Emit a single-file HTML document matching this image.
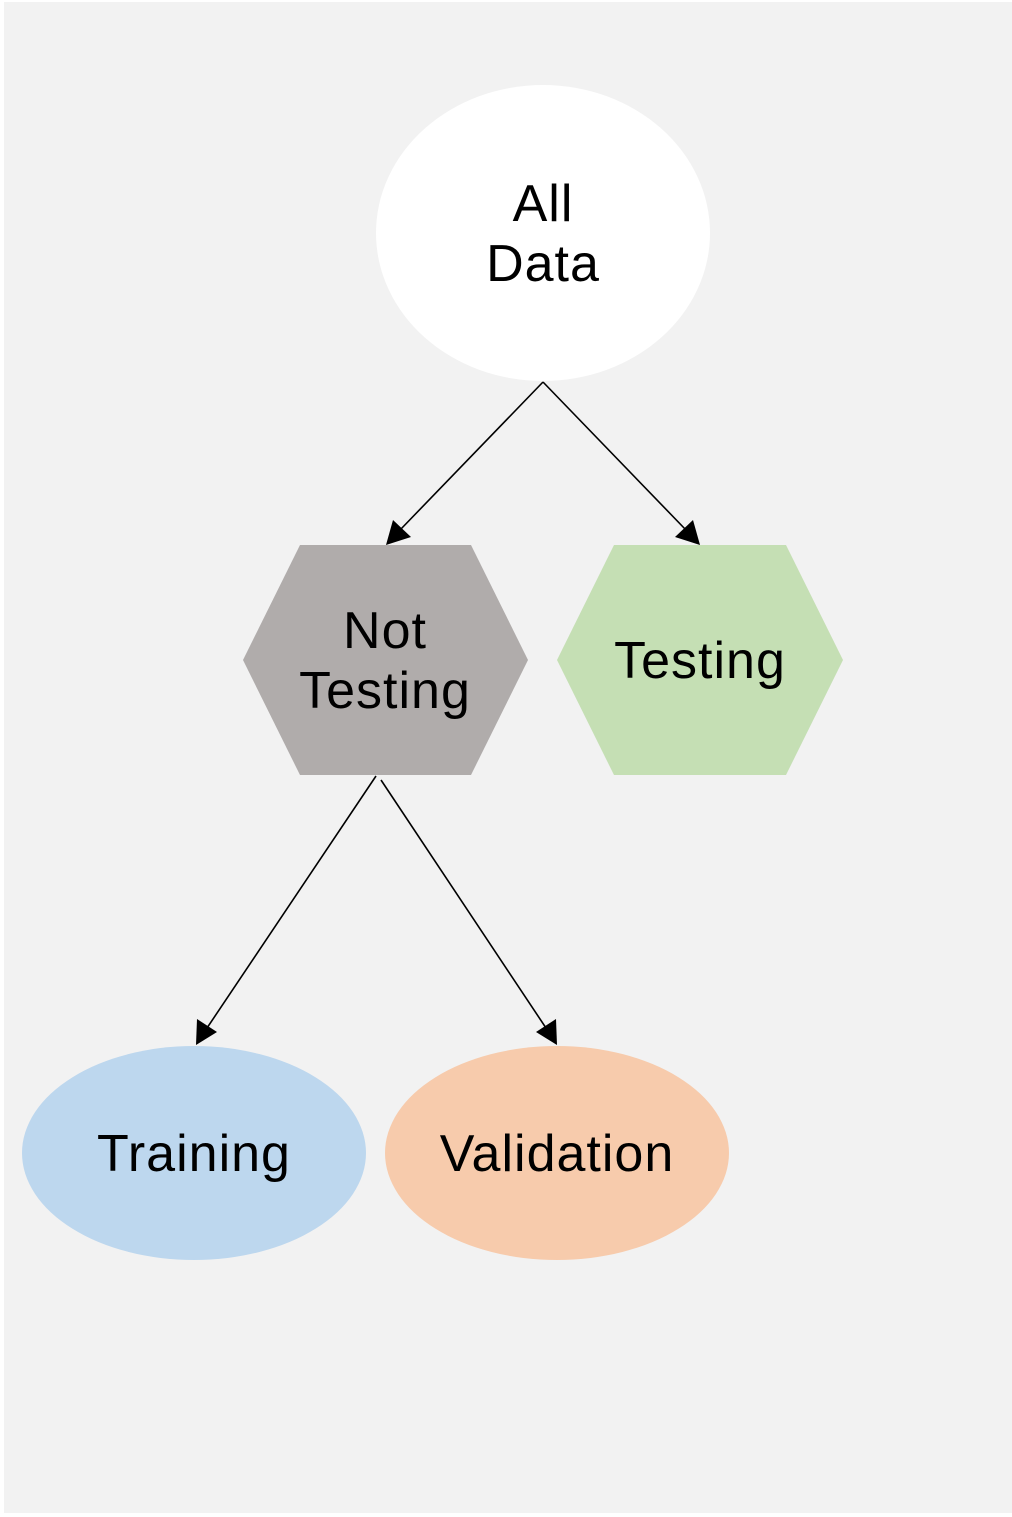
<!DOCTYPE html>
<html><head><style>
html,body{margin:0;padding:0;background:#fff;}
svg{display:block;}
text{font-family:"Liberation Sans",sans-serif;font-size:52px;letter-spacing:1px;fill:#000;text-anchor:middle;}
</style></head><body>
<svg width="1012" height="1517" viewBox="0 0 1012 1517">
<rect x="4" y="2" width="1008" height="1511" fill="#f2f2f2"/>
<ellipse cx="543" cy="233" rx="167" ry="148" fill="#fff"/>
<polygon points="243,660 300,545 471,545 528,660 471,775 300,775" fill="#b0acab"/>
<polygon points="557,660 614,545 786,545 843,660 786,775 614,775" fill="#c5dfb4"/>
<ellipse cx="194" cy="1153" rx="172" ry="107" fill="#bdd7ee"/>
<ellipse cx="557" cy="1153" rx="172" ry="107" fill="#f7cbac"/>
<g stroke="#000" stroke-width="1.6" fill="none">
<line x1="543" y1="382" x2="400" y2="530"/>
<line x1="543" y1="382" x2="686" y2="530"/>
<line x1="376" y1="776" x2="207" y2="1028"/>
<line x1="381" y1="780" x2="546" y2="1028"/>
</g>
<g fill="#000">
<polygon points="386,545 393,520 411,537"/>
<polygon points="700,545 675,537 693,520"/>
<polygon points="196,1045 197,1019 217,1032"/>
<polygon points="557,1045 536,1032 556,1019"/>
</g>
<text x="543" y="221">All</text>
<text x="543" y="281">Data</text>
<text x="385" y="648">Not</text>
<text x="385" y="708">Testing</text>
<text x="700" y="678">Testing</text>
<text x="194" y="1171">Training</text>
<text x="557" y="1171">Validation</text>
</svg>
</body></html>
